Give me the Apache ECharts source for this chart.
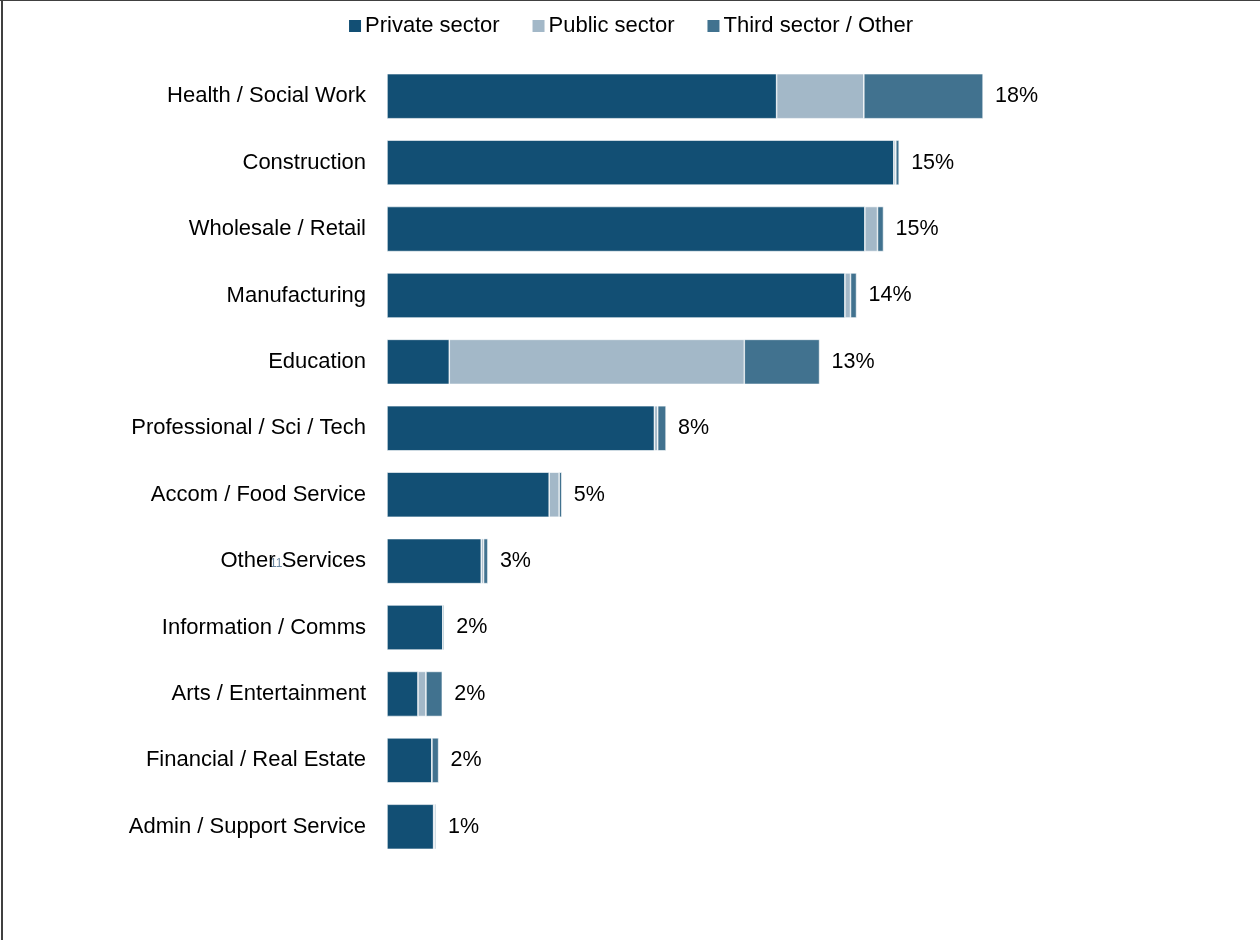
<!DOCTYPE html>
<html>
<head>
<meta charset="utf-8">
<style>
  html, body { margin: 0; padding: 0; background: #ffffff; }
  #chart { width: 1260px; height: 940px; }
</style>
<script src="https://cdn.jsdelivr.net/npm/echarts@6/dist/echarts.min.js"></script>
</head>
<body>
<div id="chart"></div>
<script>
// Share of employment by industry, split by sector (percentage points)
const categories = [
  'Health / Social Work',
  'Construction',
  'Wholesale / Retail',
  'Manufacturing',
  'Education',
  'Professional / Sci / Tech',
  'Accom / Food Service',
  'Other Services',
  'Information / Comms',
  'Arts / Entertainment',
  'Financial / Real Estate',
  'Admin / Support Service'
];
const seriesNames = ['Private sector', 'Public sector', 'Third sector / Other'];
const privateSector = [11.70, 15.22, 14.35, 13.75, 1.87, 8.03, 4.87, 2.83, 1.68, 0.93, 1.35, 1.40];
const publicSector  = [2.62, 0.06, 0.38, 0.17, 8.86, 0.10, 0.30, 0.07, 0.00, 0.24, 0.00, 0.03];
const thirdSector   = [3.58, 0.10, 0.18, 0.18, 2.26, 0.25, 0.08, 0.13, 0.04, 0.49, 0.20, 0.04];

const colors = ['#124f74', '#a3b8c8', '#41728f'];
const FONT = 'Liberation Sans, Arial, sans-serif';

const totals = categories.map((_, i) => privateSector[i] + publicSector[i] + thirdSector[i]);

const chart = echarts.init(document.getElementById('chart'), null, { renderer: 'canvas' });

const base = {
  type: 'bar',
  stack: 'total',
  barWidth: 45,
  itemStyle: { borderColor: '#ffffff', borderWidth: 0.6 },
  emphasis: { disabled: true }
};

chart.setOption({
  animation: false,
  color: colors,
  textStyle: { fontFamily: FONT },
  legend: {
    top: 10,
    left: 'center',
    itemWidth: 14,
    itemHeight: 14,
    itemGap: 31,
    icon: 'rect',
    textStyle: { fontSize: 22, color: '#000000', fontFamily: FONT, padding: [0, 0, 0, -2] },
    data: seriesNames
  },
  grid: { left: 387, top: 63, width: 799.2, height: 797 },
  xAxis: {
    type: 'value',
    min: 0,
    max: 24,
    show: false
  },
  yAxis: {
    type: 'category',
    data: categories,
    inverse: true,
    axisLine: { show: false },
    axisTick: { show: false },
    splitLine: { show: false },
    axisLabel: { fontSize: 22, color: '#000000', margin: 21, fontFamily: FONT }
  },
  series: [
    Object.assign({}, base, { name: seriesNames[0], data: privateSector }),
    Object.assign({}, base, { name: seriesNames[1], data: publicSector }),
    Object.assign({}, base, {
      name: seriesNames[2],
      data: thirdSector,
      label: {
        show: true,
        position: 'right',
        distance: 12,
        fontSize: 21.5,
        color: '#000000',
        fontFamily: FONT,
        formatter: p => Math.round(totals[p.dataIndex]) + '%'
      }
    })
  ],
  graphic: [
    { type: 'line', shape: { x1: 0, y1: 0.5, x2: 1260, y2: 0.5 }, style: { stroke: '#404040', lineWidth: 1 } },
    { type: 'line', shape: { x1: 2, y1: 0, x2: 2, y2: 940 }, style: { stroke: '#404040', lineWidth: 2 } },
    { type: 'text', left: 270, top: 558, style: { text: '11', fontSize: 12, fill: '#6a86a0', fontFamily: FONT } }
  ]
});
</script>
</body>
</html>
